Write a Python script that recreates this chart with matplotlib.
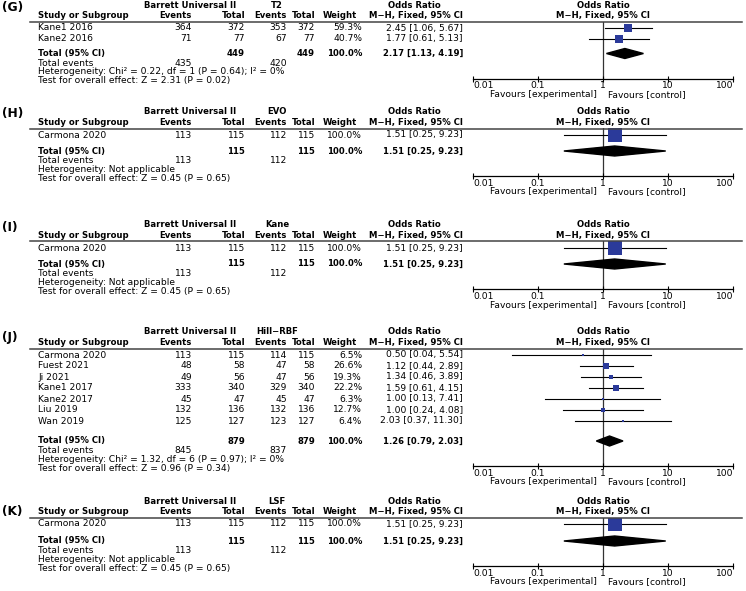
import matplotlib
matplotlib.use("Agg")
import matplotlib.pyplot as plt
from matplotlib.lines import Line2D
from matplotlib.patches import Polygon
from matplotlib.ticker import NullLocator

W, H = 746, 591

# ---------------- data ----------------
exp_name = "Barrett Universal II"

# (G) Barrett Universal II vs T2
g_studies = ["Kane1 2016", "Kane2 2016"]
g_exp_events = [364, 71]
g_exp_total = [372, 77]
g_ctl_events = [353, 67]
g_ctl_total = [372, 77]
g_weight = [59.3, 40.7]
g_or = [2.45, 1.77]
g_lo = [1.06, 0.61]
g_hi = [5.67, 5.13]
g_pooled = [2.17, 1.13, 4.19]
g_sums = [449, 449, 435, 420]   # total exp, total ctl, events exp, events ctl
g_het = "Chi\u00b2 = 0.22, df = 1 (P = 0.64); I\u00b2 = 0%"
g_test = "Z = 2.31 (P = 0.02)"

# (H), (I), (K): one study each, same numbers
one_studies = ["Carmona 2020"]
one_exp_events = [113]
one_exp_total = [115]
one_ctl_events = [112]
one_ctl_total = [115]
one_weight = [100.0]
one_or = [1.51]
one_lo = [0.25]
one_hi = [9.23]
one_pooled = [1.51, 0.25, 9.23]
one_sums = [115, 115, 113, 112]
one_het = "Not applicable"
one_test = "Z = 0.45 (P = 0.65)"

# (J) Barrett Universal II vs Hill-RBF
j_studies = ["Carmona 2020", "Fuest 2021", "Ji 2021", "Kane1 2017",
             "Kane2 2017", "Liu 2019", "Wan 2019"]
j_exp_events = [113, 48, 49, 333, 45, 132, 125]
j_exp_total = [115, 58, 56, 340, 47, 136, 127]
j_ctl_events = [114, 47, 47, 329, 45, 132, 123]
j_ctl_total = [115, 58, 56, 340, 47, 136, 127]
j_weight = [6.5, 26.6, 19.3, 22.2, 6.3, 12.7, 6.4]
j_or = [0.50, 1.12, 1.34, 1.59, 1.00, 1.00, 2.03]
j_lo = [0.04, 0.44, 0.46, 0.61, 0.13, 0.24, 0.37]
j_hi = [5.54, 2.89, 3.89, 4.15, 7.41, 4.08, 11.30]
j_pooled = [1.26, 0.79, 2.03]
j_sums = [879, 879, 845, 837]
j_het = "Chi\u00b2 = 1.32, df = 6 (P = 0.97); I\u00b2 = 0%"
j_test = "Z = 0.96 (P = 0.34)"

ticks = [0.01, 0.1, 1, 10, 100]
tick_labels = ["0.01", "0.1", "1", "10", "100"]

one = dict(studies=one_studies, ee=one_exp_events, et=one_exp_total,
           ce=one_ctl_events, ct=one_ctl_total, w=one_weight, orr=one_or,
           lo=one_lo, hi=one_hi, pooled=one_pooled, sums=one_sums,
           het=one_het, test=one_test)
panels = [
    dict(label="(G)", ctrl="T2", top=5, lab_dy=3, pitch=10.5, tgap=15,
         k=11, studies=g_studies, ee=g_exp_events, et=g_exp_total,
         ce=g_ctl_events, ct=g_ctl_total, w=g_weight, orr=g_or, lo=g_lo,
         hi=g_hi, pooled=g_pooled, sums=g_sums, het=g_het, test=g_test),
    dict(one, label="(H)", ctrl="EVO", top=112, lab_dy=2, pitch=10.5,
         tgap=16, k=14),
    dict(one, label="(I)", ctrl="Kane", top=225, lab_dy=2, pitch=10.5,
         tgap=16, k=14),
    dict(label="(J)", ctrl="Hill\u2212RBF", top=332, lab_dy=6, pitch=11,
         tgap=20, k=11, studies=j_studies, ee=j_exp_events, et=j_exp_total,
         ce=j_ctl_events, ct=j_ctl_total, w=j_weight, orr=j_or, lo=j_lo,
         hi=j_hi, pooled=j_pooled, sums=j_sums, het=j_het, test=j_test),
    dict(one, label="(K)", ctrl="LSF", top=501, lab_dy=10, pitch=10.5,
         tgap=17, k=14),
]

# ---------------- layout ----------------
FS = 6.6      # regular text
FB = 6.1      # bold text
BLUE = "#2b3a9a"
X_STUDY, X_EE, X_ET, X_CE, X_CT, X_W, X_OR = 38, 192, 245, 287, 315, 362, 463
X_PLOT0, X_PLOT1 = 473, 733

fig = plt.figure(figsize=(W / 100, H / 100), dpi=100)


def txt(x, y, s, ha="left", bold=False, size=None):
    if size is None:
        size = FB if bold else FS
    fig.text(x / W, 1 - y / H, s, ha=ha, va="center", fontsize=size,
             fontweight="bold" if bold else "normal", color="black")


def draw_panel(p):
    top = p["top"]
    h2 = top + 10.5
    line_y = top + 16.5
    rows = [top + 23 + i * p["pitch"] for i in range(len(p["studies"]))]
    tot_y = rows[-1] + p["tgap"]
    axis_y = tot_y + 25

    txt(2, top + p["lab_dy"], p["label"], bold=True, size=8.8)

    # headers
    txt(190, top, exp_name, ha="center", bold=True)
    txt(277, top, p["ctrl"], ha="center", bold=True)
    txt(414, top, "Odds Ratio", ha="center", bold=True)
    txt(603, top, "Odds Ratio", ha="center", bold=True)
    txt(X_STUDY, h2, "Study or Subgroup", bold=True)
    txt(X_EE, h2, "Events", ha="right", bold=True)
    txt(X_ET, h2, "Total", ha="right", bold=True)
    txt(X_CE, h2, "Events", ha="right", bold=True)
    txt(X_CT, h2, "Total", ha="right", bold=True)
    txt(357, h2, "Weight", ha="right", bold=True)
    txt(416, h2, "M\u2212H, Fixed, 95% CI", ha="center", bold=True)
    txt(603, h2, "M\u2212H, Fixed, 95% CI", ha="center", bold=True)
    fig.add_artist(Line2D([30 / W, 742 / W], [1 - line_y / H] * 2,
                          color="#444444", lw=1.1))

    # study rows
    for i, y in enumerate(rows):
        txt(X_STUDY, y, p["studies"][i])
        txt(X_EE, y, str(p["ee"][i]), ha="right")
        txt(X_ET, y, str(p["et"][i]), ha="right")
        txt(X_CE, y, str(p["ce"][i]), ha="right")
        txt(X_CT, y, str(p["ct"][i]), ha="right")
        txt(X_W, y, f"{p['w'][i]:.1f}%", ha="right")
        txt(X_OR, y, f"{p['orr'][i]:.2f} [{p['lo'][i]:.2f}, {p['hi'][i]:.2f}]",
            ha="right")

    s = p["sums"]
    pooled = p["pooled"]
    txt(X_STUDY, tot_y, "Total (95% CI)", bold=True)
    txt(X_ET, tot_y, str(s[0]), ha="right", bold=True)
    txt(X_CT, tot_y, str(s[1]), ha="right", bold=True)
    txt(X_W, tot_y, f"{sum(p['w']):.1f}%", ha="right", bold=True)
    txt(X_OR, tot_y, f"{pooled[0]:.2f} [{pooled[1]:.2f}, {pooled[2]:.2f}]",
        ha="right", bold=True)
    txt(X_STUDY, tot_y + 9.5, "Total events")
    txt(X_EE, tot_y + 9.5, str(s[2]), ha="right")
    txt(X_CE, tot_y + 9.5, str(s[3]), ha="right")
    txt(X_STUDY, tot_y + 18.5, "Heterogeneity: " + p["het"])
    txt(X_STUDY, tot_y + 27.5, "Test for overall effect: " + p["test"])

    # forest plot
    ax = fig.add_axes([X_PLOT0 / W, 1 - axis_y / H, (X_PLOT1 - X_PLOT0) / W,
                       (axis_y - line_y) / H])
    ax.set_xscale("log")
    ax.set_xlim(0.01, 100)
    ax.set_ylim(axis_y, line_y)
    ax.patch.set_visible(False)
    for side in ["top", "left", "right"]:
        ax.spines[side].set_visible(False)
    ax.spines["bottom"].set_linewidth(0.9)
    ax.set_yticks([])
    ax.set_xticks(ticks)
    ax.set_xticklabels(tick_labels)
    ax.xaxis.set_minor_locator(NullLocator())
    ax.tick_params(axis="x", direction="inout", length=4, width=0.8,
                   labelsize=FS, pad=0)
    labs = ax.get_xticklabels()
    labs[0].set_ha("left")
    labs[-1].set_ha("right")
    ax.axvline(1, color="#333333", lw=0.9, zorder=1)

    for i, y in enumerate(rows):
        ax.plot([p["lo"][i], p["hi"][i]], [y, y], color="black", lw=0.8,
                zorder=2)
        side_px = p["k"] * (p["w"][i] / 100) ** 0.5
        ax.plot(p["orr"][i], y, "s", ms=side_px * 0.72, color=BLUE, mec=BLUE,
                mew=0, zorder=3)
    dh = 5
    ax.add_patch(Polygon([(pooled[1], tot_y), (pooled[0], tot_y - dh),
                          (pooled[2], tot_y), (pooled[0], tot_y + dh)],
                         closed=True, color="black", zorder=3))

    txt(597, axis_y + 16, "Favours [experimental]", ha="right")
    txt(608, axis_y + 16, "Favours [control]")


for p in panels:
    draw_panel(p)

fig.savefig("out.png", dpi=100)
